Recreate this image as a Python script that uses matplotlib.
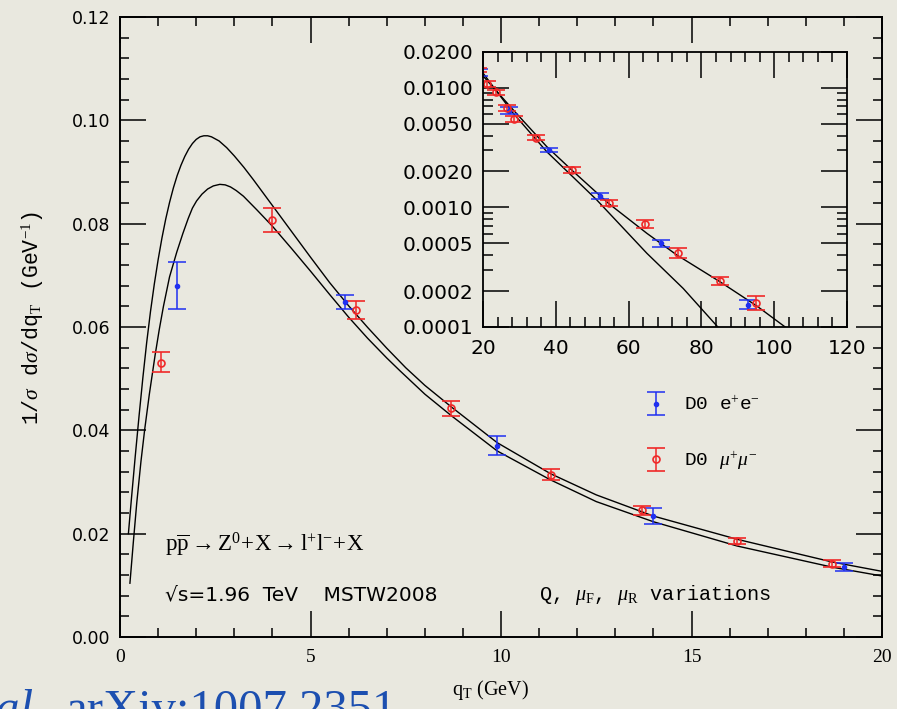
import matplotlib
matplotlib.use("Agg")
import matplotlib.pyplot as plt
from matplotlib.ticker import MultipleLocator, FixedLocator, FixedFormatter, LogLocator, NullFormatter
from matplotlib.container import ErrorbarContainer
from matplotlib.legend_handler import HandlerErrorbar

plt.rcParams['font.family'] = ['DejaVu Sans']
plt.rcParams['mathtext.fontset'] = 'custom'
plt.rcParams['mathtext.rm'] = 'Liberation Serif'
plt.rcParams['mathtext.it'] = 'Liberation Serif:italic'
plt.rcParams['mathtext.bf'] = 'Liberation Serif:bold'

# D0 data, main panel (qT < 20 GeV)
ee_qt = [1.5, 5.9, 9.9, 14.0, 19.0]
ee_val = [0.0680, 0.0649, 0.0370, 0.0234, 0.0135]
ee_lo = [0.0635, 0.0635, 0.0352, 0.0218, 0.0127]
ee_hi = [0.0726, 0.0662, 0.0388, 0.0250, 0.0143]

mm_qt = [1.08, 4.0, 6.2, 8.7, 11.3, 13.7, 16.2, 18.7]
mm_val = [0.0531, 0.0807, 0.0632, 0.0443, 0.0314, 0.0245, 0.0186, 0.0141]
mm_lo = [0.0512, 0.0784, 0.0615, 0.0428, 0.0303, 0.0236, 0.0179, 0.0136]
mm_hi = [0.0551, 0.0831, 0.0651, 0.0457, 0.0325, 0.0254, 0.0192, 0.0148]

# theory band edges (scale variations)
band_hi_qt = [0.22, 0.30, 0.40, 0.50, 0.60, 0.70, 0.80, 0.90, 1.00, 1.10, 1.20, 1.30,
              1.40, 1.50, 1.60, 1.70, 1.80, 1.90, 2.00, 2.10, 2.20, 2.30, 2.40, 2.60,
              2.80, 3.00, 3.25, 3.50, 3.75, 4.00, 4.50, 5.00, 5.50, 6.00, 6.50, 7.00,
              7.50, 8.00, 8.70, 9.90, 11.3, 12.5, 14.0, 16.2, 18.7, 20.0]
band_hi = [0.0200, 0.0268, 0.0350, 0.0428, 0.0502, 0.0570, 0.0630, 0.0683, 0.0730, 0.0772,
           0.0809, 0.0841, 0.0869, 0.0893, 0.0913, 0.0930, 0.0944, 0.0955, 0.0963, 0.0968,
           0.0970, 0.0970, 0.0968, 0.0960, 0.0947, 0.0931, 0.0909, 0.0885, 0.0860, 0.0835,
           0.0785, 0.0735, 0.0686, 0.0641, 0.0599, 0.0559, 0.0521, 0.0487, 0.0445, 0.0376,
           0.0316, 0.0275, 0.0234, 0.0189, 0.0145, 0.0127]

band_lo_qt = [0.26, 0.35, 0.44, 0.55, 0.65, 0.77, 0.92, 1.03, 1.14, 1.30, 1.49, 1.65,
              1.79, 1.90, 2.01, 2.15, 2.30, 2.45, 2.62, 2.76, 2.90, 3.05, 3.24, 3.60,
              4.00, 4.50, 5.00, 5.50, 6.00, 6.50, 7.00, 7.35, 8.00, 8.70, 9.90, 11.3,
              12.5, 14.0, 16.2, 18.7, 20.0]
band_lo = [0.0104, 0.0184, 0.0260, 0.0340, 0.0403, 0.0470, 0.0545, 0.0595, 0.0640, 0.0697,
           0.0745, 0.0781, 0.0810, 0.0830, 0.0844, 0.0857, 0.0867, 0.0873, 0.0876, 0.0875,
           0.0871, 0.0864, 0.0853, 0.0826, 0.0795, 0.0752, 0.0708, 0.0663, 0.0619, 0.0578,
           0.0540, 0.0515, 0.0470, 0.0428, 0.0360, 0.0304, 0.0262, 0.0223, 0.0176, 0.0135,
           0.0118]

# high-qT tail (inset, log scale)
tail_ee_qt = [19.0, 27.0, 38.2, 52.0, 68.9, 92.9]
tail_ee_val = [0.0135, 0.00646, 0.00303, 0.00125, 0.000501, 0.000153]
tail_ee_lo = [0.0127, 0.0061, 0.00290, 0.00118, 0.000470, 0.000141]
tail_ee_hi = [0.0143, 0.0069, 0.00316, 0.00132, 0.000535, 0.000168]

tail_mm_qt = [18.7, 21.2, 23.5, 26.5, 28.5, 34.5, 44.5, 54.6, 64.5, 73.5, 85.1, 95.1]
tail_mm_val = [0.0141, 0.01074, 0.0092, 0.00676, 0.00547, 0.00384, 0.00206, 0.00108,
               0.000723, 0.000414, 0.000243, 0.000158]
tail_mm_lo = [0.0136, 0.0101, 0.0087, 0.0064, 0.0052, 0.00366, 0.00196, 0.00102,
              0.00067, 0.000375, 0.000224, 0.000138]
tail_mm_hi = [0.0148, 0.0114, 0.0097, 0.0072, 0.0058, 0.00402, 0.00216, 0.00115,
              0.00078, 0.000455, 0.000262, 0.000180]

tail_a_qt = [20.0, 28.3, 37.5, 44.8, 54.5, 65.0, 73.2, 85.1, 95.2, 103.0]
tail_a = [0.0126, 0.00655, 0.00323, 0.00200, 0.00108, 0.000608, 0.000401, 0.000239, 0.000150, 0.0001]
tail_b_qt = [20.0, 28.3, 37.5, 51.2, 65.0, 75.0, 84.5]
tail_b = [0.0133, 0.00614, 0.00293, 0.00116, 0.000414, 0.000210, 0.0001]

inset_yticks = [0.0001, 0.0002, 0.0005, 0.001, 0.002, 0.005, 0.01, 0.02]
inset_ylabels = ['0.0001', '0.0002', '0.0005', '0.0010', '0.0020', '0.0050', '0.0100', '0.0200']

RED = '#f02828'
BLUE = '#2030f0'
BG = '#e9e8df'


def errs(val, lo, hi):
    return [[v - l for v, l in zip(val, lo)], [h - v for v, h in zip(val, hi)]]


fig = plt.figure(figsize=(8.97, 7.09), dpi=100, facecolor=BG)
ax = fig.add_axes([0.1338, 0.1016, 0.8495, 0.8745])
ax.set_facecolor(BG)

ax.plot(band_hi_qt, band_hi, color='black', lw=1.0)
ax.plot(band_lo_qt, band_lo, color='black', lw=1.0)

eb_ee = ax.errorbar(ee_qt, ee_val, yerr=errs(ee_val, ee_lo, ee_hi), fmt='o', color=BLUE,
                    ms=3, capsize=6.2, elinewidth=1.1, capthick=1.1, label=r'D0 e$^{+}$e$^{-}$')
eb_mm = ax.errorbar(mm_qt, mm_val, yerr=errs(mm_val, mm_lo, mm_hi), fmt='o', color=RED,
                    mfc='none', mec=RED, mew=1.2, ms=5, capsize=6.2, elinewidth=1.1,
                    capthick=1.1, label=r'D0 $\mu^{+}\mu^{-}$')

ax.set_xlim(0, 20)
ax.set_ylim(0, 0.12)
ax.xaxis.set_major_locator(MultipleLocator(5))
ax.xaxis.set_minor_locator(MultipleLocator(1))
ax.yaxis.set_major_locator(MultipleLocator(0.02))
ax.yaxis.set_minor_locator(MultipleLocator(0.004))
ax.yaxis.set_major_formatter(matplotlib.ticker.FormatStrFormatter('%.2f'))
ax.tick_params(which='both', direction='in', top=True, right=True, width=1.1)
ax.tick_params(which='major', length=19)
ax.tick_params(which='minor', length=6.5)
ax.tick_params(axis='y', labelsize=12.5, pad=7)
ax.tick_params(axis='x', labelsize=14, pad=9)
for lab in ax.get_xticklabels():
    lab.set_family('Liberation Serif')
for sp in ax.spines.values():
    sp.set_linewidth(1.4)

ax.text(1.18, 0.0178, r'$\mathrm{p\overline{p}\rightarrow Z^{0}\!+\!X\rightarrow l^{+}l^{-}\!+\!X}$',
        fontsize=16.5, va='center', ha='left')
ax.text(1.18, 0.0081, '\u221as=1.96  TeV    MSTW2008', fontsize=14.5, va='center', ha='left')
ax.text(11.0, 0.0081, r'Q, $\mu_{\rm F}$, $\mu_{\rm R}$ variations', family='Liberation Mono',
        fontsize=14.5, va='center', ha='left')

leg = ax.legend(handles=[eb_ee, eb_mm], loc='upper left', bbox_to_anchor=(0.6877, 0.389),
                frameon=False, prop={'family': 'Liberation Mono', 'size': 14},
                handlelength=1.2, handletextpad=0.85, labelspacing=1.8, borderpad=0,
                borderaxespad=0, handler_map={ErrorbarContainer: HandlerErrorbar(xerr_size=0.6)})

fig.text(0.037, 1 - 318 / 709, r'1/$\sigma$ d$\sigma$/dq$_{\rm T}$ (GeV$^{-1}$)', rotation=90,
         family='Liberation Mono', fontsize=15.5, ha='center', va='center')
fig.text(490 / 897, 1 - 690 / 709, r'q$_{\rm T}$ (GeV)', family='Liberation Serif',
         fontsize=14.5, ha='center', va='center')

# inset: tail on a log scale
ins = fig.add_axes([0.5385, 0.5388, 0.4058, 0.3879])
ins.set_facecolor(BG)
ins.plot(tail_a_qt, tail_a, color='black', lw=1.0)
ins.plot(tail_b_qt, tail_b, color='black', lw=1.0)
ins.errorbar(tail_ee_qt, tail_ee_val, yerr=errs(tail_ee_val, tail_ee_lo, tail_ee_hi), fmt='o',
             color=BLUE, ms=3, capsize=6.5, elinewidth=1.1, capthick=1.1)
ins.errorbar(tail_mm_qt, tail_mm_val, yerr=errs(tail_mm_val, tail_mm_lo, tail_mm_hi), fmt='o',
             color=RED, mfc='none', mec=RED, mew=1.2, ms=5, capsize=6.5, elinewidth=1.1,
             capthick=1.1)
ins.set_yscale('log')
ins.set_xlim(20, 120)
ins.set_ylim(0.0001, 0.02)
ins.xaxis.set_major_locator(MultipleLocator(20))
ins.xaxis.set_minor_locator(MultipleLocator(4))
ins.yaxis.set_major_locator(FixedLocator(inset_yticks))
ins.yaxis.set_major_formatter(FixedFormatter(inset_ylabels))
ins.yaxis.set_minor_locator(LogLocator(base=10, subs=[3, 4, 6, 7, 8, 9]))
ins.yaxis.set_minor_formatter(NullFormatter())
ins.tick_params(which='both', direction='in', top=True, right=True, width=1.1)
ins.tick_params(which='major', length=19)
ins.tick_params(which='minor', length=7)
ins.tick_params(axis='y', labelsize=14.5, pad=7)
ins.tick_params(axis='x', labelsize=14.5, pad=9)
for sp in ins.spines.values():
    sp.set_linewidth(1.3)

# reference line along the bottom edge
fig.text(45 / 897, -0.02, 'et al.', style='italic', family='Liberation Serif', fontsize=35,
         color='#1c4fb0', ha='right', va='baseline')
fig.text(65 / 897, -0.02, 'arXiv:1007.2351', family='Liberation Serif', fontsize=35,
         color='#1c4fb0', ha='left', va='baseline')

fig.savefig('out.png', dpi=100, facecolor=BG)
